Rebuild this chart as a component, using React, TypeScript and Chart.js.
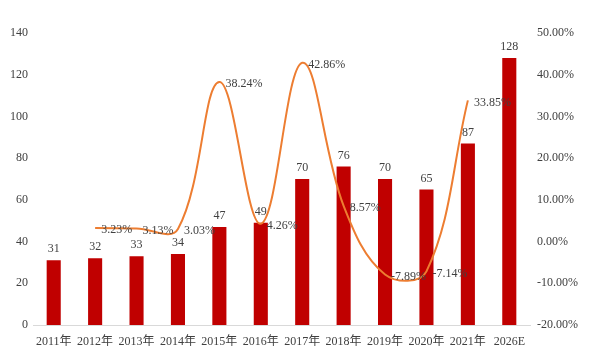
import React, { useEffect, useRef } from "react";
import { Chart, registerables } from "chart.js";

Chart.register(...registerables);

const categories = ["2011年", "2012年", "2013年", "2014年", "2015年", "2016年", "2017年", "2018年", "2019年", "2020年", "2021年", "2026E"];
const barValues = [31, 32, 33, 34, 47, 49, 70, 76, 70, 65, 87, 128];
const growthValues: (number | null)[] = [null, 3.23, 3.13, 3.03, 38.24, 4.26, 42.86, 8.57, -7.89, -7.14, 33.85, null];
const leftTicks = [0, 20, 40, 60, 80, 100, 120, 140];
const rightTicks = [-20, -10, 0, 10, 20, 30, 40, 50];

const FONT = "'Liberation Serif', 'Noto Sans CJK SC', serif";

const labelPlugin = {
  id: "valueLabels",
  afterDatasetsDraw(chart: any) {
    const ctx = chart.ctx;
    ctx.save();
    ctx.font = `12px ${FONT}`;
    ctx.fillStyle = "#404040";
    const barMeta = chart.getDatasetMeta(0);
    barMeta.data.forEach((el: any, i: number) => {
      ctx.textAlign = "center";
      ctx.textBaseline = "bottom";
      ctx.fillText(String(barValues[i]), el.x, el.y - 5);
    });
    const lineMeta = chart.getDatasetMeta(1);
    lineMeta.data.forEach((el: any, i: number) => {
      const v = growthValues[i];
      if (v === null || v === undefined) return;
      ctx.textAlign = "left";
      ctx.textBaseline = "middle";
      ctx.fillText(v.toFixed(2) + "%", el.x + 6, el.y + 2);
    });
    ctx.restore();
  },
};

export default function App() {
  const ref = useRef<HTMLCanvasElement>(null);
  useEffect(() => {
    document.body.style.margin = "0";
    const chart = new Chart(ref.current as HTMLCanvasElement, {
      data: {
        labels: categories,
        datasets: [
          {
            type: "bar",
            data: barValues,
            backgroundColor: "#C00000",
            yAxisID: "y",
            categoryPercentage: 1,
            barPercentage: 0.34,
            order: 2,
          },
          {
            type: "line",
            data: growthValues,
            borderColor: "#ED7D31",
            borderWidth: 2,
            pointRadius: 0,
            tension: 0.38,
            yAxisID: "y1",
            spanGaps: false,
            order: 1,
          },
        ],
      } as any,
      options: {
        animation: false,
        responsive: false,
        layout: { padding: { top: 33, right: 0, left: 0, bottom: 0 } },
        plugins: { legend: { display: false }, tooltip: { enabled: false } },
        scales: {
          x: {
            grid: { display: false, drawTicks: false },
            border: { display: true, color: "#D9D9D9", width: 1 },
            ticks: { font: { family: FONT, size: 12 }, color: "#404040", padding: 10, maxRotation: 0, autoSkip: false },
            afterFit: (s: any) => { s.height = 39; },
          },
          y: {
            position: "left",
            min: 0,
            max: 140,
            afterBuildTicks: (s: any) => { s.ticks = leftTicks.map((v) => ({ value: v })); },
            grid: { display: false, drawTicks: false },
            border: { display: false },
            ticks: { font: { family: FONT, size: 12 }, color: "#404040", padding: 5 },
            afterFit: (s: any) => { s.width = 33; },
          },
          y1: {
            position: "right",
            min: -20,
            max: 50,
            afterBuildTicks: (s: any) => { s.ticks = rightTicks.map((v) => ({ value: v })); },
            grid: { display: false, drawTicks: false },
            border: { display: false },
            ticks: {
              font: { family: FONT, size: 12 },
              color: "#404040",
              padding: 7,
              callback: (v: any) => Number(v).toFixed(2) + "%",
            },
            afterFit: (s: any) => { s.width = 72; },
          },
        },
      },
      plugins: [labelPlugin],
    });
    return () => chart.destroy();
  }, []);
  return <canvas ref={ref} width={602} height={364} style={{ display: "block" }} />;
}
